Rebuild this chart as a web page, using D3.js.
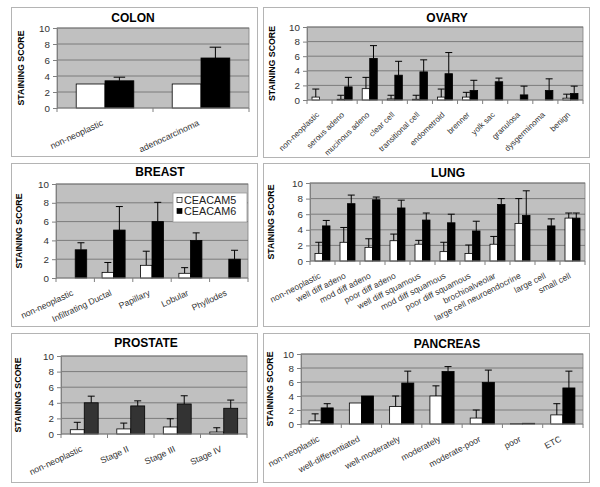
<!DOCTYPE html>
<html>
<head>
<meta charset="utf-8">
<script src="https://cdn.jsdelivr.net/npm/d3@7/dist/d3.min.js"></script>
<style>
  body { margin: 0; background: #fff; }
  svg { display: block; font-family: 'Liberation Sans', Arial, sans-serif; }
</style>
</head>
<body>
<div id="chart"></div>
<script>
// CEACAM5 (white) / CEACAM6 (black) staining scores, with + error
const colonCats = ['non-neoplastic', 'adenocarcinoma']
const colonC5 = [3.0, 3.0]
const colonC5Err = [0, 0]
const colonC6 = [3.4, 6.25]
const colonC6Err = [0.45, 1.35]

const ovaryCats = ['non-neoplastic', 'serous adeno', 'mucinous adeno', 'clear cell', 'transitional cell',
  'endometroid', 'brenner', 'yolk sac', 'granulosa', 'dysgerminoma', 'benign']
const ovaryC5 = [0.4, 0.1, 1.55, 0.15, 0.1, 0.4, 0.4, 0, 0, 0, 0.25]
const ovaryC5Err = [1.1, 0.55, 1.55, 0.5, 0.55, 1.1, 0.65, 0, 0, 0, 0.55]
const ovaryC6 = [0, 1.8, 5.7, 3.4, 3.85, 3.6, 1.3, 2.5, 0.7, 1.3, 0.9]
const ovaryC6Err = [0, 1.3, 1.75, 1.9, 1.65, 2.9, 1.4, 0.5, 1.2, 1.6, 1.0]

const breastCats = ['non-neoplastic', 'Infiltrating Ductal', 'Papillary', 'Lobular', 'Phyllodes']
const breastC5 = [0, 0.6, 1.35, 0.5, 0]
const breastC5Err = [0, 1.05, 1.5, 0.6, 0]
const breastC6 = [3.0, 5.1, 6.0, 4.0, 2.0]
const breastC6Err = [0.75, 2.5, 2.05, 0.8, 0.95]

const lungCats = ['non-neoplastic', 'well diff adeno', 'mod diff adeno', 'poor diff adeno', 'well diff squamous',
  'mod diff squamous', 'poor diff squamous', 'brochioalveolar', 'large cell neuroendocrine', 'large cell', 'small cell']
const lungC5 = [0.95, 2.4, 1.75, 2.6, 2.15, 1.2, 0.95, 2.15, 4.8, 0, 5.5]
const lungC5Err = [1.45, 1.9, 1.1, 0.85, 0.5, 1.2, 1.1, 1.0, 3.2, 0, 0.65]
const lungC6 = [4.5, 7.35, 7.85, 6.8, 5.25, 4.9, 3.85, 7.25, 5.85, 4.5, 5.5]
const lungC6Err = [0.7, 1.1, 0.35, 1.0, 0.9, 1.1, 1.25, 0.75, 3.15, 0.9, 0.65]

const prostateCats = ['non-neoplastic', 'Stage II', 'Stage III', 'Stage IV']
const prostateC5 = [0.55, 0.65, 0.9, 0.25]
const prostateC5Err = [0.95, 0.75, 1.05, 0.55]
const prostateC6 = [4.0, 3.6, 3.85, 3.3]
const prostateC6Err = [0.85, 0.65, 1.05, 1.05]

const pancreasCats = ['non-neoplastic', 'well-differentiated', 'well-moderately', 'moderately',
  'moderate-poor', 'poor', 'ETC']
const pancreasC5 = [0.45, 3.0, 2.5, 4.0, 0.85, 0.05, 1.3]
const pancreasC5Err = [1.0, 0, 1.5, 1.45, 1.15, 0, 1.6]
const pancreasC6 = [2.3, 4.0, 5.85, 7.5, 5.95, 0.1, 5.15]
const pancreasC6Err = [0.6, 0, 1.7, 0.7, 1.75, 0, 2.4]

const yTicks = [0, 2, 4, 6, 8, 10]
const seriesNames = ['CEACAM5', 'CEACAM6']

// layout: frame [x0,y0,x1,y1], plot [left,top,right,bottom]
const panels = [
  { title: 'COLON', cats: colonCats, c5: colonC5, e5: colonC5Err, c6: colonC6, e6: colonC6Err,
    frame: [11, 7, 257, 156], plot: [57, 28, 249, 108], titleX: 133, titleY: 21.5, yLabelX: 21,
    angle: 25, labelSize: 8.8, dark: '#000' },
  { title: 'OVARY', cats: ovaryCats, c5: ovaryC5, e5: ovaryC5Err, c6: ovaryC6, e6: ovaryC6Err,
    frame: [263, 7, 589, 157], plot: [307, 27, 583, 100], titleX: 447, titleY: 21.5, yLabelX: 272,
    angle: 44, labelSize: 8, dark: '#000' },
  { title: 'BREAST', cats: breastCats, c5: breastC5, e5: breastC5Err, c6: breastC6, e6: breastC6Err,
    frame: [11, 163, 257, 326], plot: [56, 184, 248, 278], titleX: 160, titleY: 176, yLabelX: 19,
    angle: 25, labelSize: 8.7, dark: '#000', legend: true },
  { title: 'LUNG', cats: lungCats, c5: lungC5, e5: lungC5Err, c6: lungC6, e6: lungC6Err,
    frame: [263, 163, 589, 326], plot: [310, 183, 585, 261], titleX: 448, titleY: 177, yLabelX: 271,
    angle: 27, labelSize: 8.5, dark: '#000' },
  { title: 'PROSTATE', cats: prostateCats, c5: prostateC5, e5: prostateC5Err, c6: prostateC6, e6: prostateC6Err,
    frame: [11, 333, 257, 482], plot: [61, 356, 247, 434], titleX: 146, titleY: 347, yLabelX: 18,
    angle: 25, labelSize: 8.8, dark: '#333' },
  { title: 'PANCREAS', cats: pancreasCats, c5: pancreasC5, e5: pancreasC5Err, c6: pancreasC6, e6: pancreasC6Err,
    frame: [263, 333, 589, 482], plot: [301, 354, 583, 424], titleX: 447, titleY: 348, yLabelX: 270,
    angle: 28, labelSize: 8.7, dark: '#000' },
]

const svg = d3.select('#chart').append('svg')
  .attr('width', 600).attr('height', 487)
  .attr('viewBox', '0 0 600 487')

function drawPanel(p) {
  const g = svg.append('g')
  const [fx0, fy0, fx1, fy1] = p.frame
  const [left, top, right, bottom] = p.plot

  g.append('rect')
    .attr('x', fx0 + 0.5).attr('y', fy0 + 0.5)
    .attr('width', fx1 - fx0).attr('height', fy1 - fy0)
    .attr('fill', '#fff').attr('stroke', '#b4b4b4')

  const x = d3.scaleBand().domain(p.cats).range([left, right])
  const sub = d3.scaleBand().domain([0, 1]).range([x.step() * 0.2, x.step() * 0.8])
  const y = d3.scaleLinear().domain([0, 10]).range([bottom, top])

  // plot area
  g.append('rect')
    .attr('x', left).attr('y', top)
    .attr('width', right - left).attr('height', bottom - top)
    .attr('fill', '#c0c0c0').attr('stroke', '#808080').attr('stroke-width', 0.8)

  // gridlines
  g.append('g').selectAll('line')
    .data(yTicks.filter(t => t > 0))
    .join('line')
    .attr('x1', left).attr('x2', right)
    .attr('y1', d => y(d)).attr('y2', d => y(d))
    .attr('stroke', '#6a6a6a').attr('stroke-width', 0.8)

  const rows = p.cats.map((c, i) => [
    { cat: c, s: 0, v: p.c5[i], e: p.e5[i] },
    { cat: c, s: 1, v: p.c6[i], e: p.e6[i] },
  ]).flat().filter(d => d.v > 0)

  const bw = sub.bandwidth()
  const cap = Math.max(3.5, bw * 0.2)

  // error bars (plus only)
  const err = g.append('g').selectAll('g')
    .data(rows.filter(d => d.e > 0))
    .join('g')
    .attr('stroke', '#000').attr('stroke-width', 1)
  err.append('line')
    .attr('x1', d => x(d.cat) + sub(d.s) + bw / 2)
    .attr('x2', d => x(d.cat) + sub(d.s) + bw / 2)
    .attr('y1', d => y(d.v)).attr('y2', d => y(d.v + d.e))
  err.append('line')
    .attr('x1', d => x(d.cat) + sub(d.s) + bw / 2 - cap)
    .attr('x2', d => x(d.cat) + sub(d.s) + bw / 2 + cap)
    .attr('y1', d => y(d.v + d.e)).attr('y2', d => y(d.v + d.e))

  // bars
  g.append('g').selectAll('rect')
    .data(rows)
    .join('rect')
    .attr('x', d => x(d.cat) + sub(d.s))
    .attr('width', bw)
    .attr('y', d => y(d.v))
    .attr('height', d => y(0) - y(d.v))
    .attr('fill', d => (d.s === 0 ? '#fff' : p.dark))
    .attr('stroke', '#000').attr('stroke-width', 0.8)

  // y axis
  const yAxis = g.append('g')
    .attr('transform', `translate(${left},0)`)
    .call(d3.axisLeft(y).tickValues(yTicks).tickSize(4).tickPadding(3))
  yAxis.select('.domain').attr('stroke', '#808080')
  yAxis.selectAll('.tick line').attr('stroke', '#808080')
  yAxis.selectAll('.tick text').attr('font-size', 9.8).attr('fill', '#333')
    .attr('font-family', null)

  // x axis line and category boundary ticks
  g.append('line')
    .attr('x1', left).attr('x2', right)
    .attr('y1', bottom).attr('y2', bottom)
    .attr('stroke', '#808080')
  g.append('g').selectAll('line')
    .data(p.cats.map(c => x(c)).concat([right]))
    .join('line')
    .attr('x1', d => d).attr('x2', d => d)
    .attr('y1', bottom).attr('y2', bottom + 4)
    .attr('stroke', '#808080')

  // rotated category labels
  g.append('g').selectAll('text')
    .data(p.cats)
    .join('text')
    .attr('transform', d => `translate(${x(d) + x.step() / 2 - 4},${bottom + 11}) rotate(${-p.angle})`)
    .attr('text-anchor', 'end')
    .attr('dy', '0.75em')
    .attr('font-size', p.labelSize)
    .attr('fill', '#333')
    .text(d => d)

  // title
  g.append('text')
    .attr('x', p.titleX).attr('y', p.titleY)
    .attr('text-anchor', 'middle')
    .attr('font-size', 12).attr('font-weight', 'bold')
    .text(p.title)

  // y label
  g.append('text')
    .attr('transform', `translate(${p.yLabelX},${(top + bottom) / 2}) rotate(-90)`)
    .attr('text-anchor', 'middle')
    .attr('dy', '0.35em')
    .attr('font-size', 8.8).attr('font-weight', 'bold')
    .text('STAINING SCORE')

  if (p.legend) {
    const lg = g.append('g').attr('transform', `translate(${right - 75},${top + 9})`)
    lg.append('rect').attr('width', 74).attr('height', 29)
      .attr('fill', '#fff').attr('stroke', '#999').attr('stroke-width', 0.8)
    seriesNames.forEach((name, i) => {
      lg.append('rect')
        .attr('x', 4).attr('y', 7 + i * 11 - 2.5)
        .attr('width', 5).attr('height', 5)
        .attr('fill', i === 0 ? '#fff' : '#000')
        .attr('stroke', '#000').attr('stroke-width', 0.7)
      lg.append('text')
        .attr('x', 11).attr('y', 7 + i * 11)
        .attr('dy', '0.36em')
        .attr('font-size', 10.8)
        .attr('fill', '#222')
        .text(name)
    })
  }
}

panels.forEach(drawPanel)
</script>
</body>
</html>
